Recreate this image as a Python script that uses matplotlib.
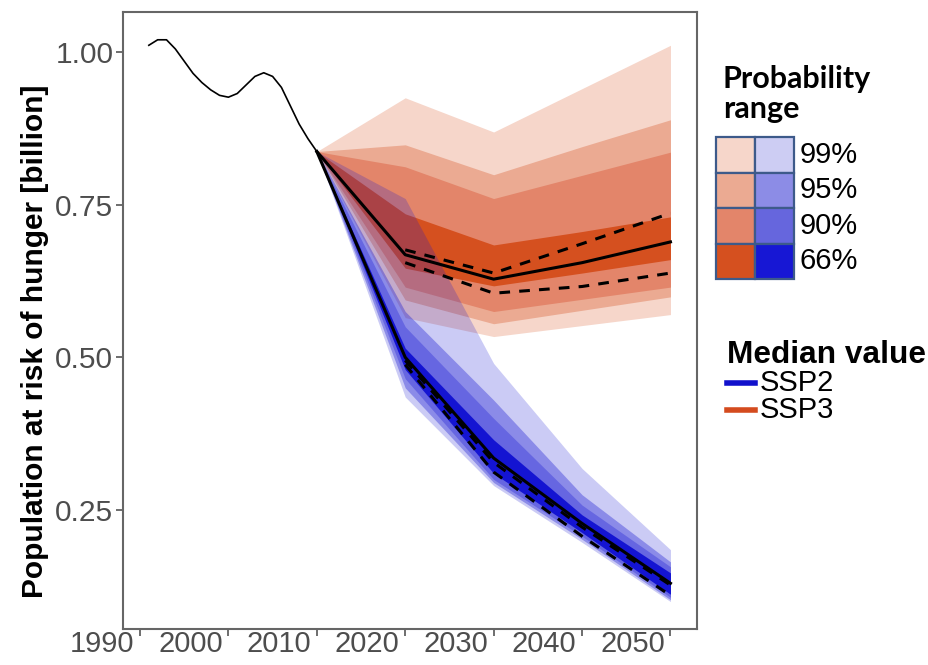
import numpy as np
import matplotlib.pyplot as plt
import matplotlib.transforms as mtransforms
from matplotlib.patches import Rectangle
from matplotlib.lines import Line2D

plt.rcParams['font.family'] = ['Liberation Sans', 'DejaVu Sans']

# historical estimate (black thin line)
hist_years = list(range(1991, 2011))
hist_pop = [1.011, 1.020, 1.020, 1.005, 0.985, 0.965, 0.950, 0.938, 0.929, 0.926,
            0.932, 0.946, 0.960, 0.966, 0.960, 0.942, 0.912, 0.882, 0.858, 0.837]

proj_years = [2010, 2020, 2030, 2040, 2050]
dash_years = [2020, 2030, 2040, 2050]
levels = ['99%', '95%', '90%', '66%']

# SSP3 (red)
ssp3_median = [0.837, 0.668, 0.628, 0.655, 0.689]
ssp3_dash_hi = [0.676, 0.638, 0.686, 0.736]
ssp3_dash_lo = [0.655, 0.605, 0.616, 0.638]
ssp3_hi = [[0.837, 0.925, 0.869, 0.940, 1.011],
           [0.837, 0.848, 0.799, 0.845, 0.889],
           [0.837, 0.812, 0.760, 0.798, 0.836],
           [0.837, 0.735, 0.684, 0.706, 0.730]]
ssp3_lo = [[0.837, 0.565, 0.534, 0.552, 0.570],
           [0.837, 0.594, 0.555, 0.577, 0.599],
           [0.837, 0.615, 0.575, 0.595, 0.615],
           [0.837, 0.646, 0.617, 0.638, 0.660]]

# SSP2 (blue)
ssp2_median = [0.837, 0.500, 0.335, 0.228, 0.130]
ssp2_dash_hi = [0.495, 0.328, 0.222, 0.127]
ssp2_dash_lo = [0.488, 0.312, 0.207, 0.110]
ssp2_hi = [[0.837, 0.760, 0.490, 0.318, 0.185],
           [0.837, 0.575, 0.430, 0.275, 0.165],
           [0.837, 0.550, 0.400, 0.258, 0.157],
           [0.837, 0.515, 0.365, 0.242, 0.147]]
ssp2_lo = [[0.837, 0.435, 0.290, 0.197, 0.100],
           [0.837, 0.450, 0.295, 0.202, 0.103],
           [0.837, 0.465, 0.300, 0.207, 0.107],
           [0.837, 0.480, 0.310, 0.213, 0.112]]

red_cols = ['#F6D6CA', '#EBAA92', '#E3856A', '#D5501F']
blue_cols = ['#CDCDF3', '#8C8CE6', '#6666DD', '#1717D4']
blue_base = '#1414D2'
blue_alpha = [0.22, 0.35, 0.31, 1.0]

W, H = 929, 665
fig = plt.figure(figsize=(W / 100, H / 100), dpi=100)
ax = fig.add_axes([123 / W, 1 - 629 / H, (697 - 123) / W, (629 - 12) / H])

for i in range(4):
    ax.fill_between(proj_years, ssp3_lo[i], ssp3_hi[i], color=red_cols[i], lw=0)
for i in range(4):
    ax.fill_between(proj_years, ssp2_lo[i], ssp2_hi[i], color=blue_base,
                    alpha=blue_alpha[i], lw=0)

ax.plot(hist_years, hist_pop, color='black', lw=1.2)
ax.plot(proj_years, ssp3_median, color='black', lw=2.2)
ax.plot(proj_years, ssp2_median, color='black', lw=2.2)
for ys in [ssp3_dash_hi, ssp3_dash_lo, ssp2_dash_hi, ssp2_dash_lo]:
    ax.plot(dash_years, ys, color='black', lw=2.2, dashes=(3.5, 3))

ax.set_xlim(1988.08, 2053.0)
ax.set_ylim(0.0551, 1.0655)
ax.set_xticks([1990, 2000, 2010, 2020, 2030, 2040, 2050])
ax.set_yticks([0.25, 0.50, 0.75, 1.00])
ax.set_yticklabels(['0.25', '0.50', '0.75', '1.00'])
ax.tick_params(axis='both', colors='#555555', labelcolor='#4D4D4D',
               length=5, width=1.2)
ax.tick_params(axis='x', pad=0, labelsize=21)
ax.tick_params(axis='y', pad=2, labelsize=21.5)
# labels in the original sit to the left of their ticks
shift = mtransforms.ScaledTranslation(-4 / 72, 4 / 72, fig.dpi_scale_trans)
for lab in ax.get_xticklabels():
    lab.set_horizontalalignment('right')
    lab.set_transform(lab.get_transform() + shift)
for s in ax.spines.values():
    s.set_color('#666666')
    s.set_linewidth(1.5)

fig.text(35 / W, 1 - 341 / H, 'Population at risk of hunger [billion]',
         rotation=90, ha='center', va='center', fontsize=21.5, fontweight='bold')

# Probability range legend
fig.text(723 / W, 1 - 88 / H, 'Probability', ha='left', va='baseline',
         fontsize=22, fontweight='bold', family=['Lato', 'DejaVu Sans'])
fig.text(723 / W, 1 - 118 / H, 'range', ha='left', va='baseline',
         fontsize=22, fontweight='bold', family=['Lato', 'DejaVu Sans'])
x0, cw = 716, 39
rows = [137, 172.5, 208, 243.5, 279]
for j in range(4):
    for k, cols in enumerate([red_cols, blue_cols]):
        fig.add_artist(Rectangle(((x0 + k * cw) / W, 1 - rows[j + 1] / H), cw / W,
                                 (rows[j + 1] - rows[j]) / H, transform=fig.transFigure,
                                 facecolor=cols[j], edgecolor='#3D5A8A', lw=1.6))
    fig.text(800 / W, 1 - (rows[j] + rows[j + 1]) / 2 / H, levels[j], ha='left',
             va='center', fontsize=21)

# Median value legend
fig.text(727 / W, 1 - 363 / H, 'Median value', ha='left', va='baseline',
         fontsize=22.8, fontweight='bold')
for yy, col, name in [(383, '#1111CC', 'SSP2'), (410, '#D44B1E', 'SSP3')]:
    fig.add_artist(Line2D([727 / W, 755 / W], [1 - yy / H, 1 - yy / H],
                          transform=fig.transFigure, color=col, lw=4))
    fig.text(760 / W, 1 - yy / H, name, ha='left', va='center', fontsize=21)

fig.savefig('out.png', dpi=100)
